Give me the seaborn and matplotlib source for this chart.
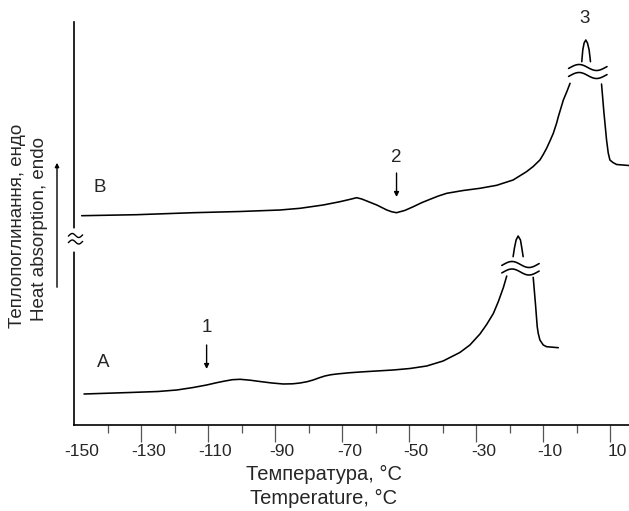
import numpy as np
import pandas as pd
import matplotlib
matplotlib.use("Agg")
import matplotlib.pyplot as plt
import matplotlib.transforms as mtransforms
import seaborn as sns

# ---------------- data ----------------
# temperature (°C) and signal height (arbitrary units)
a_main_t = [-147.1, -133.4, -125.0, -119.4, -114.5, -110.5, -107.5, -105.0, -102.8, -100.5,
            -97.5, -94.6, -91.0, -87.6, -84.8, -82.6, -80.5, -78.7, -76.8, -75.2,
            -73.5, -71.7, -68.0, -64.7, -59.8, -54.8, -49.8, -44.8, -39.9, -34.9,
            -31.9, -28.9, -26.9, -24.9, -23.4, -21.9, -20.9]
a_main_h = [31, 32.5, 33.5, 35, 37.5, 40, 42.3, 44, 45.3, 45.7,
            44.8, 43.5, 42, 41, 41.2, 42, 43.3, 45, 47.3, 49,
            50.2, 51, 52.2, 53, 54, 55, 56.5, 59, 64, 72.5,
            80, 91, 100.5, 111.5, 123.5, 137.5, 149]
a_peak_t = [-19.0, -18.6, -18.1, -17.5, -16.8, -16.4, -16.0]
a_peak_h = [168.3, 177, 185, 189, 185, 177, 168.3]
a_tail_t = [-13.0, -12.3, -11.8, -11.5, -11.0, -10.0, -9.0, -5.5]
a_tail_h = [147.7, 120, 98.3, 91.7, 85, 80, 78.3, 77.3]

b_main_t = [-147.8, -131.4, -114.5, -100.5, -88.6, -82.6, -75.7, -70.7, -67.5, -65.7,
            -64.2, -62.9, -61.2, -59.7, -58.2, -56.7, -55.2, -53.8, -51.3, -48.8,
            -46.3, -43.8, -41.3, -38.8, -33.9, -28.9, -23.9, -19.0, -15.0, -13.0,
            -11.0, -10.0, -9.0, -8.0, -7.0, -6.0, -5.5, -4.0, -3.0, -2.0]
b_main_h = [209.3, 210.3, 212.3, 213.5, 215, 216.7, 220, 223.3, 225.8, 227.3,
            226.0, 224.3, 222.0, 220, 217.5, 215, 213.2, 212.3, 214.6, 218.3,
            222.3, 225.7, 229.0, 231.7, 234.5, 236.7, 239.7, 245, 253.3, 258.5,
            265, 270.5, 276.7, 284, 291.7, 302, 308.3, 325, 333, 341.7]
b_peak_t = [1.5, 1.8, 2.2, 2.7, 3.2, 3.7, 4.1]
b_peak_h = [363.3, 375, 382, 385, 382, 375, 363.3]
b_tail_t = [7.4, 8.1, 8.9, 9.4, 9.9, 10.8, 11.9, 15.6]
b_tail_h = [341, 313, 285, 272, 265, 262.5, 260.5, 259.5]

tick_major = [-150, -130, -110, -90, -70, -50, -30, -10, 10]
tick_minor = [-140, -120, -100, -80, -60, -40, -20, 0]
tick_labels = ["-150", "-130", "-110", "-90", "-70", "-50", "-30", "-10", "10"]

event_labels = ["1", "2", "3"]
event_t = [-110.5, -53.8, 2.2]
curve_names = ["A", "B"]

xlabel_ua = "Температура, °C"
xlabel_en = "Temperature, °C"
ylabel_ua = "Теплопоглинання, ендо"
ylabel_en = "Heat absorption, endo"

# ---------------- styling ----------------
sns.set_style("ticks")
plt.rcParams["font.family"] = ["Liberation Sans", "DejaVu Sans"]

W, H, DPI = 629, 511, 100
fig = plt.figure(figsize=(W / DPI, H / DPI), dpi=DPI)
x0_px, y_bot_px, y_top_px = 74.3, 425, 22
ax = fig.add_axes([x0_px / W, (H - y_bot_px) / H, (W - x0_px) / W, (y_bot_px - y_top_px) / H])

XMIN, XMAX = -150, 15.6
YMAX = y_bot_px - y_top_px
px_per_deg = (W - x0_px) / (XMAX - XMIN)

LW = 1.15
def seg(t, h):
    df = pd.DataFrame({"t": t, "h": h})
    sns.lineplot(data=df, x="t", y="h", ax=ax, color="black", lw=LW, sort=False,
                 estimator=None, legend=False)

for t, h in [(a_main_t, a_main_h), (a_peak_t, a_peak_h), (a_tail_t, a_tail_h),
             (b_main_t, b_main_h), (b_peak_t, b_peak_h), (b_tail_t, b_tail_h)]:
    seg(t, h)

ax.set_xlim(XMIN, XMAX)
ax.set_ylim(0, YMAX)

# break marks (decoration)
def wave(xc, yc, wpx, amp, lw=LW):
    s = np.linspace(-0.05, 1.05, 60)
    xs = xc + (s - 0.5) * wpx / px_per_deg
    ys = yc + amp * np.sin(2 * np.pi * s)
    ax.plot(xs, ys, color="black", lw=lw, clip_on=False, zorder=5, solid_capstyle="round")

wave(-16.8, 160.5, 34, 3.0)
wave(-16.8, 153.0, 34, 3.0)
wave(3.3, 357.5, 35, 3.0)
wave(3.3, 349.5, 35, 3.0)

# y-axis break
ax.plot([XMIN, XMIN], [176, 194], color="white", lw=4, clip_on=False, zorder=4)
wave(XMIN + 1.2 / px_per_deg, 189.5, 13, 2.0, lw=1.0)
wave(XMIN + 1.2 / px_per_deg, 183.0, 13, 2.0, lw=1.0)

# event arrows and labels
arrow_kw = dict(arrowstyle="-|>", color="black", lw=1.0, mutation_scale=7,
                shrinkA=0, shrinkB=0)
ax.annotate("", xy=(event_t[0], 56), xytext=(event_t[0], 80), arrowprops=arrow_kw)
ax.annotate("", xy=(event_t[1], 228), xytext=(event_t[1], 252), arrowprops=arrow_kw)
fs_lab = 13.5
ax.text(event_t[0], 98, event_labels[0], ha="center", va="center", fontsize=fs_lab)
ax.text(event_t[1], 268, event_labels[1], ha="center", va="center", fontsize=fs_lab)
ax.text(event_t[2], 406.5, event_labels[2], ha="center", va="center", fontsize=fs_lab, clip_on=False)
ax.text(-141.4, 63, curve_names[0], ha="center", va="center", fontsize=fs_lab)
ax.text(-142.3, 237, curve_names[1], ha="center", va="center", fontsize=fs_lab)

# axes styling
for side in ["top", "right"]:
    ax.spines[side].set_visible(False)
for side in ["left", "bottom"]:
    ax.spines[side].set_linewidth(1.2)
    ax.spines[side].set_color("black")
ax.set_yticks([])
ax.set_xticks(tick_major)
ax.set_xticklabels(tick_labels, fontsize=12.5)
ax.set_xticks(tick_minor, minor=True)
ax.tick_params(axis="x", which="major", direction="out", length=12.5, width=0.9,
               color="#555555", pad=1.0)
ax.tick_params(axis="x", which="minor", direction="out", length=6, width=0.9, color="#555555")
ax.xaxis.get_major_ticks()[0].tick1line.set_visible(False)
off = mtransforms.ScaledTranslation(7 / DPI, 0, fig.dpi_scale_trans)
for lab in ax.get_xticklabels():
    lab.set_transform(lab.get_transform() + off)
ax.set_xlabel("")
ax.set_ylabel("")

# axis titles in figure pixels
fig.text(324 / W, 1 - 474 / H, xlabel_ua, ha="center", va="center", fontsize=14.5)
fig.text(324 / W, 1 - 498 / H, xlabel_en, ha="center", va="center", fontsize=14.5)
fig.text(18 / W, 1 - 226 / H, ylabel_ua, ha="center", va="center", rotation=90, fontsize=13.5)
fig.text(40 / W, 1 - 229 / H, ylabel_en, ha="center", va="center", rotation=90, fontsize=13.5)
fig.patches.append(matplotlib.patches.FancyArrowPatch(
    (57, H - 290), (57, H - 160), transform=None, arrowstyle="-|>",
    mutation_scale=6, color="black", lw=1.0))

fig.savefig("out.png", dpi=DPI)
